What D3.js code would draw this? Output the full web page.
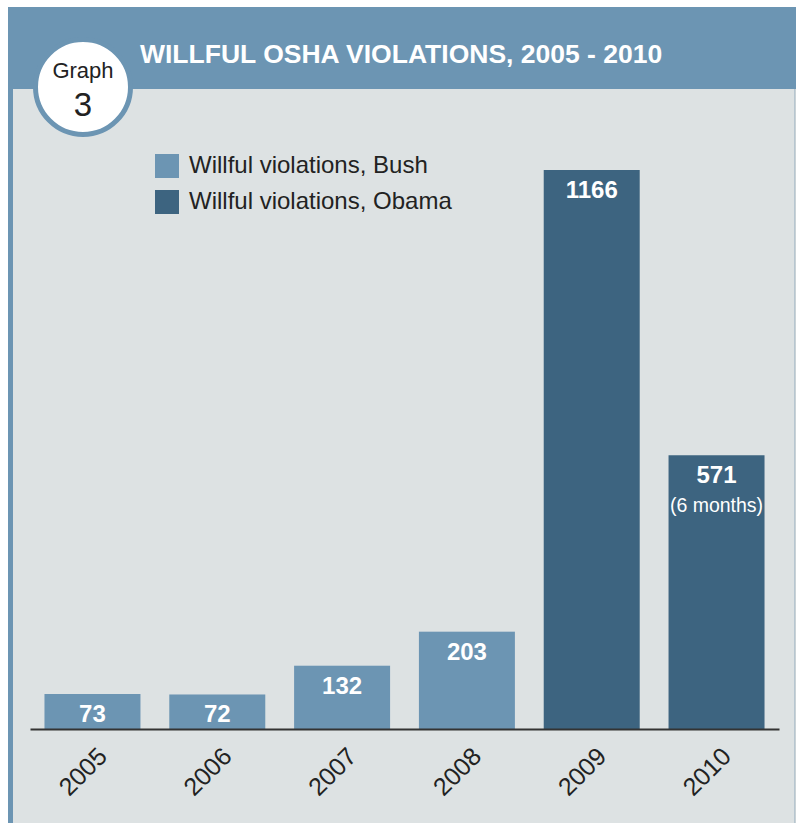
<!DOCTYPE html>
<html><head><meta charset="utf-8">
<script src="https://cdn.jsdelivr.net/npm/d3@7"></script>
<style>html,body{margin:0;padding:0;background:#fff;}svg{display:block;}</style>
</head><body>
<script>
const years = ["2005","2006","2007","2008","2009","2010"];
const values = [73, 72, 132, 203, 1166, 571];
const groups = ["Bush","Bush","Bush","Bush","Obama","Obama"];
const notes = ["","","","","","(6 months)"];
const legendLabels = ["Willful violations, Bush","Willful violations, Obama"];
const legendKeys = ["Bush","Obama"];
const title = "WILLFUL OSHA VIOLATIONS, 2005 - 2010";

const W = 796, H = 823;
const svg = d3.select("body").append("svg").attr("width", W).attr("height", H);
const font = "'Liberation Sans', Arial, sans-serif";
const color = d3.scaleOrdinal().domain(legendKeys).range(["#6c95b3", "#3d6480"]);

// panel
svg.append("rect").attr("x", 8).attr("y", 7).attr("width", W - 8).attr("height", H - 7).attr("fill", "#6c95b3");
svg.append("rect").attr("x", 13).attr("y", 89).attr("width", W - 1.5 - 13).attr("height", H - 89).attr("fill", "#dde2e3");
svg.append("rect").attr("x", W - 1.5).attr("y", 89).attr("width", 1.5).attr("height", H - 89).attr("fill", "#c9d2d6");

svg.append("text").attr("x", 140).attr("y", 63).attr("font-family", font).attr("font-weight", "bold")
  .attr("font-size", 26.5).attr("fill", "#fff").text(title);

// badge
svg.append("circle").attr("cx", 83).attr("cy", 87).attr("r", 47.5).attr("fill", "#fff")
  .attr("stroke", "#6c95b3").attr("stroke-width", 5);
svg.append("text").attr("x", 83).attr("y", 78).attr("text-anchor", "middle").attr("font-family", font)
  .attr("font-size", 22).attr("fill", "#222").text("Graph");
svg.append("text").attr("x", 83).attr("y", 116).attr("text-anchor", "middle").attr("font-family", font)
  .attr("font-size", 33).attr("fill", "#222").text("3");

// scales
const x = d3.scaleBand().domain(years).range([30, 779]).paddingInner(0.231).paddingOuter(0.116);
const y = d3.scaleLinear().domain([0, 1166]).range([729, 170]);

const data = years.map((yr, i) => ({year: yr, value: values[i], group: groups[i], note: notes[i]}));

svg.append("g").selectAll("rect").data(data).join("rect")
  .attr("x", d => x(d.year)).attr("width", x.bandwidth())
  .attr("y", d => y(d.value)).attr("height", d => y(0) - y(d.value))
  .attr("fill", d => color(d.group));

svg.append("g").selectAll("text").data(data).join("text")
  .attr("x", d => x(d.year) + x.bandwidth() / 2).attr("y", d => y(d.value) + 28)
  .attr("text-anchor", "middle").attr("font-family", font).attr("font-weight", "bold")
  .attr("font-size", 24).attr("fill", "#fff").text(d => d.value);

svg.append("g").selectAll("text").data(data.filter(d => d.note)).join("text")
  .attr("x", d => x(d.year) + x.bandwidth() / 2).attr("y", d => y(d.value) + 57)
  .attr("text-anchor", "middle").attr("font-family", font)
  .attr("font-size", 19.5).attr("fill", "#fff").text(d => d.note);

// axis
const axis = d3.axisBottom(x).tickSize(0).tickPadding(0);
const ag = svg.append("g").attr("transform", `translate(0,${y(0)})`).call(axis);
ag.select(".domain").attr("stroke", "#333").attr("stroke-width", 2);
ag.selectAll(".tick text")
  .attr("font-family", font).attr("font-size", 25).attr("fill", "#222")
  .attr("text-anchor", "end").attr("dy", null).attr("y", 0)
  .attr("transform", "translate(16,29) rotate(-45)");

// legend
const lg = svg.append("g").selectAll("g").data(legendKeys).join("g")
  .attr("transform", (d, i) => `translate(155,${154 + i * 36})`);
lg.append("rect").attr("width", 24).attr("height", 24).attr("fill", d => color(d));
lg.append("text").attr("x", 34).attr("y", 19).attr("font-family", font).attr("font-size", 24)
  .attr("fill", "#222").text((d, i) => legendLabels[i]);
</script>
</body></html>
